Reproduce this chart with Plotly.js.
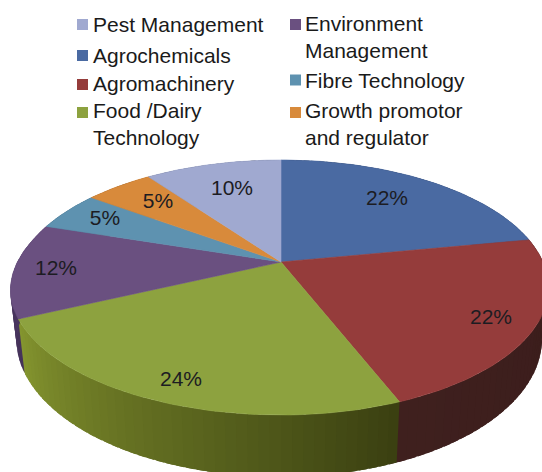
<!DOCTYPE html>
<html>
<head>
<meta charset="utf-8">
<script src="https://cdn.plot.ly/plotly-3.0.1.min.js"></script>
<style>html,body{margin:0;padding:0;background:#fff;overflow:hidden}#chart{width:542px;height:472px}</style>
</head>
<body>
<div id="chart"></div>
<script>
// Data, clockwise from 12 o'clock
var categories = ['Agrochemicals','Agromachinery','Food /Dairy Technology','Environment Management','Fibre Technology','Growth promotor and regulator','Pest Management'];
var values = [22,22,24,12,5,5,10];
var topColors = ['#4a6aa2','#953c3b','#8da23f','#6a5080','#5e92b0','#d88a3b','#a0a9d0'];
var sideStart = ['#2c3f60','#3a1c1b','#3a3f11','#45335a','#3a5c70','#8a5824','#646a85'];
var sideEnd   = ['#2c3f60','#3f201e','#85962f','#4f3a66','#3a5c70','#8a5824','#646a85'];
var pctLabels = ['22%','22%','24%','12%','5%','5%','10%'];
var pctX = [387,491,181,56,105,158,232];
var pctY = [200,319,381,270,220,203,190];
var legendText = ['Pest Management','Agrochemicals','Agromachinery','Food /Dairy<br>Technology','Environment<br>Management','Fibre Technology','Growth promotor<br>and regulator'];
var legendColors = ['#a0a9d0','#4a6aa2','#953c3b','#8da23f','#6a5080','#5e92b0','#d88a3b'];
var legendMarkX = [82.5,82.5,82.5,82.5,295.5,295.5,295.5];
var legendMarkY = [24.5,55.5,84.5,112.5,24.5,80,112.5];
var legendTextX = [91,91,91,91,303,303,303];
var legendTextY = [24,55,83,124,37,80,124];

// Perspective disc geometry
var cx = 281, cy = 262, rx = 262, ry = 122.4, k = 0.2, depth = 49.5, shrink = 0.976;
function rim(deg, lower){
  var t = deg*Math.PI/180, u = Math.sin(t), v = -Math.cos(t), w = 1-k*v;
  var x = rx*u/w, y = cy+ry*v/w;
  if(u<0){ x += 4*u*Math.max(0,Math.min(1,(v+0.2)/0.5)); }
  if(lower){ x *= shrink; y += depth/w; }
  return [cx+x, y];
}
function hex(c){ return [1,3,5].map(function(i){return parseInt(c.substr(i,2),16);}); }
function mix(a,b,f){
  var A = hex(a), B = hex(b);
  return 'rgb('+A.map(function(n,i){return Math.round(n+(B[i]-n)*f);}).join(',')+')';
}
function poly(xs,ys,color,lw){
  return {type:'scatter',mode:'lines',x:xs,y:ys,fill:'toself',fillcolor:color,
          line:{color:color,width:lw},hoverinfo:'skip',showlegend:false};
}

var total = values.reduce(function(a,b){return a+b;},0);
var sides = [], tops = [], acc = 0;
values.forEach(function(val,i){
  var a0 = acc/total*360, a1 = (acc+val)/total*360; acc += val;
  var n = Math.max(1,Math.ceil((a1-a0)/2));
  // shaded wall: strips overlap the next one so no seam shows
  for(var s=0;s<n;s++){
    var b0 = a0+(a1-a0)*s/n, b1 = a0+(a1-a0)*(s+1)/n+1.5;
    var p = [rim(b0,false),rim((b0+b1)/2,false),rim(b1,false),rim(b1,true),rim((b0+b1)/2,true),rim(b0,true),rim(b0,false)];
    sides.push(poly(p.map(function(q){return q[0];}),p.map(function(q){return q[1];}),
      mix(sideStart[i],sideEnd[i],(s+0.5)/n),0));
  }
  // top face
  var xs=[cx], ys=[cy];
  for(var d=0;d<=60;d++){
    var q = rim(a0+(a1-a0)*d/60,false);
    xs.push(q[0]); ys.push(q[1]);
  }
  xs.push(cx); ys.push(cy);
  tops.push(poly(xs,ys,topColors[i],0.6));
});

var markers = {type:'scatter',mode:'markers',x:legendMarkX,y:legendMarkY,
  marker:{symbol:'square',size:11,color:legendColors,line:{width:0}},hoverinfo:'skip',showlegend:false};
var pct = {type:'scatter',mode:'text',x:pctX,y:pctY,text:pctLabels,textposition:'middle center',
  textfont:{family:'Liberation Sans, Arial, sans-serif',size:21,color:'#1c1c22'},hoverinfo:'skip',showlegend:false};

var annotations = legendText.map(function(t,i){
  return {x:legendTextX[i],y:legendTextY[i],xref:'x',yref:'y',text:t,showarrow:false,
    xanchor:'left',yanchor:'middle',align:'left',
    font:{family:'Liberation Sans, Arial, sans-serif',size:21,color:'#1a1a1a'}};
});

Plotly.newPlot('chart',sides.concat(tops,[markers,pct]),{
  width:542,height:472,margin:{l:0,r:0,t:0,b:0},
  paper_bgcolor:'#ffffff',plot_bgcolor:'#ffffff',showlegend:false,hovermode:false,
  xaxis:{range:[0,542],visible:false,fixedrange:true},
  yaxis:{range:[472,0],visible:false,fixedrange:true},
  annotations:annotations
},{displayModeBar:false,staticPlot:true});
</script>
</body>
</html>
